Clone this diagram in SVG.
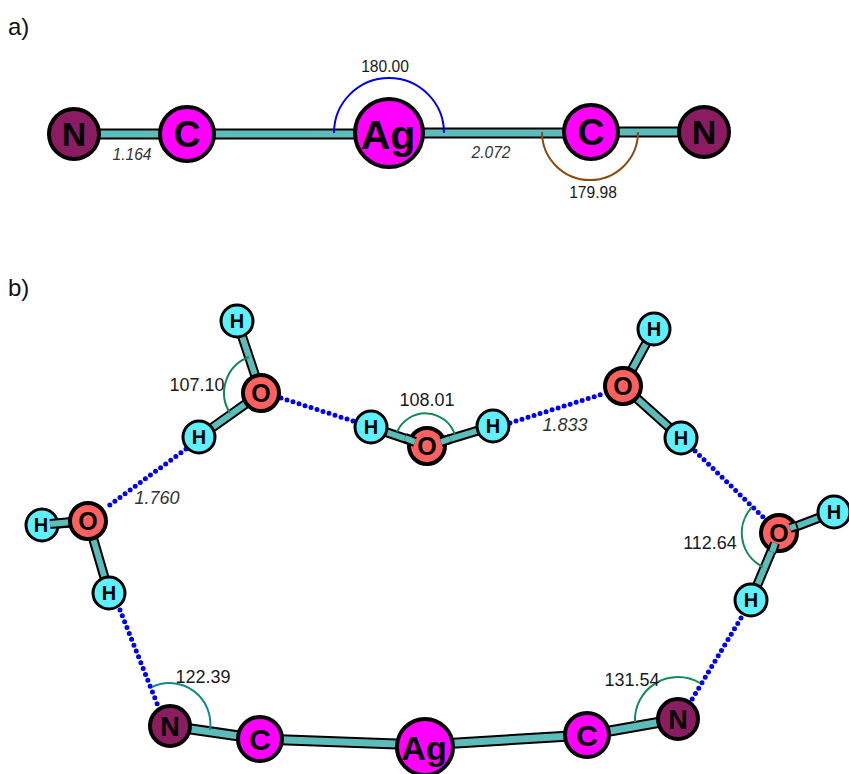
<svg xmlns="http://www.w3.org/2000/svg" width="849" height="774" viewBox="0 0 849 774">
<style>
text{font-family:"Liberation Sans",Arial,sans-serif;text-anchor:middle;fill:#1a1a1a}
.tag{font-size:24px;text-anchor:start;fill:#111}
.num{font-size:15.6px}
.len{font-size:15.6px;font-style:italic;fill:#333}
.numb{font-size:18px}
.lenb{font-size:18px;font-style:italic;fill:#333}
.bo{stroke:#000;fill:none;stroke-width:11}
.bi{stroke:#5cbcb9;fill:none;stroke-width:7}
.so{stroke:#000;fill:none;stroke-width:10}
.si{stroke:#5cbcb9;fill:none;stroke-width:6}
.hb{stroke:#0000ee;fill:none;stroke-width:5;stroke-linecap:round;stroke-dasharray:0 6.3}
.arc{fill:none;stroke-width:2}
circle{stroke:#000;stroke-width:4}
.h{stroke-width:3}
.n{fill:#8b1c62}.c,.ag{fill:#ff00ff}.o{fill:#ff6060}.h{fill:#5ff0ff}
.lb{font-weight:bold;fill:#000}
</style>
<text class="tag" x="8" y="35">a)</text>
<text class="tag" x="8" y="296">b)</text>
<g id="connectors">
<path class="bo" d="M74 134H187M187 134H387M387 133H591M591 132H704"/>
<path class="bi" d="M74 134H187M187 134H387M387 133H591M591 132H704"/>
<path class="so" d="M237 321L261 393M261 393L199 437M88 521L42 525M88 521L109 593M427 446L371 427M427 446L493 426M623 386L654 329M623 386L681 438M779 533L834 512M779 533L751 600"/>
<path class="si" d="M237 321L261 393M261 393L199 437M88 521L42 525M88 521L109 593M427 446L371 427M427 446L493 426M623 386L654 329M623 386L681 438M779 533L834 512M779 533L751 600"/>
<path class="bo" d="M170 726L260 739M260 739L424 745M424 745L587 735M587 735L678 719"/>
<path class="bi" d="M170 726L260 739M260 739L424 745M424 745L587 735M587 735L678 719"/>
<path class="hb" d="M186 449L107 507M281 398L356 422M510 423L606 393M695 451L765 519M741 618L691 701M120 610L158 706"/>
<path class="arc" stroke="#0000ee" d="M334 133A55 55 0 0 1 444 133"/>
<path class="arc" stroke="#8b4a10" d="M542 132A48 48 0 0 0 638 132"/>
<path class="arc" stroke="#118a55" d="M249 357A38 38 0 0 0 230 413"/>
<path class="arc" stroke="#118a55" d="M397 432A31 31 0 0 1 455 435"/>
<path class="arc" stroke="#118a55" d="M752 507A38 38 0 0 0 763 567"/>
<path class="arc" stroke="#118a55" d="M700 683A43 43 0 0 0 635 722"/>
<path class="arc" stroke="#118a8a" d="M152 687A41 41 0 0 1 210 730"/>
</g>
<g id="a-N1"><circle class="n" cx="74" cy="134" r="25"/><text class="lb" x="74" y="146" font-size="34">N</text></g>
<g id="a-C1"><circle class="c" cx="187" cy="134" r="27"/><text class="lb" x="187" y="147" font-size="37">C</text></g>
<g id="a-Ag"><circle class="ag" cx="389" cy="133" r="34"/><text class="lb" x="388" y="149" font-size="41">Ag</text></g>
<g id="a-C2"><circle class="c" cx="591" cy="132" r="27"/><text class="lb" x="591" y="145" font-size="37">C</text></g>
<g id="a-N2"><circle class="n" cx="704" cy="132" r="25"/><text class="lb" x="704" y="144" font-size="34">N</text></g>
<g id="b-H1"><circle class="h" cx="237" cy="321" r="16"/><text class="lb" x="237" y="328" font-size="20">H</text></g>
<g id="b-O1"><circle class="o" cx="261" cy="393" r="18"/><text class="lb" x="261" y="402" font-size="25">O</text></g>
<g id="b-H2"><circle class="h" cx="199" cy="437" r="16"/><text class="lb" x="199" y="444" font-size="20">H</text></g>
<g id="b-H3"><circle class="h" cx="42" cy="525" r="16"/><path class="so" d="M72 522L50 524"/><path class="si" d="M72 522L50 524"/><text class="lb" x="41" y="532" font-size="20">H</text></g>
<g id="b-O2"><circle class="o" cx="88" cy="521" r="18"/><text class="lb" x="88" y="530" font-size="25">O</text></g>
<g id="b-H4"><circle class="h" cx="109" cy="593" r="16"/><text class="lb" x="109" y="600" font-size="20">H</text></g>
<g id="b-N1"><circle class="n" cx="170" cy="726" r="20"/><text class="lb" x="170" y="736" font-size="27">N</text></g>
<g id="b-C1"><circle class="c" cx="260" cy="739" r="22"/><text class="lb" x="260" y="750" font-size="30">C</text></g>
<g id="b-Ag"><circle class="ag" cx="425" cy="747" r="28"/><text class="lb" x="424" y="760" font-size="34">Ag</text></g>
<g id="b-C2"><circle class="c" cx="587" cy="735" r="22"/><text class="lb" x="587" y="746" font-size="30">C</text></g>
<g id="b-N2"><circle class="n" cx="678" cy="719" r="20"/><text class="lb" x="678" y="729" font-size="27">N</text></g>
<g id="b-H5"><circle class="h" cx="751" cy="600" r="16"/><text class="lb" x="751" y="607" font-size="20">H</text></g>
<g id="b-O3"><circle class="o" cx="779" cy="533" r="18"/><path class="so" d="M796 526L790 528M775 543L772 552"/><path class="si" d="M796 526L790 528M775 543L772 552"/><text class="lb" x="779" y="542" font-size="25">O</text></g>
<g id="b-H6"><circle class="h" cx="834" cy="512" r="16"/><text class="lb" x="834" y="519" font-size="20">H</text></g>
<g id="b-H7"><circle class="h" cx="681" cy="438" r="16"/><text class="lb" x="681" y="445" font-size="20">H</text></g>
<g id="b-O4"><circle class="o" cx="623" cy="386" r="18"/><text class="lb" x="623" y="395" font-size="25">O</text></g>
<g id="b-H8"><circle class="h" cx="654" cy="329" r="16"/><text class="lb" x="654" y="336" font-size="20">H</text></g>
<g id="b-H9"><circle class="h" cx="371" cy="427" r="16"/><text class="lb" x="371" y="434" font-size="20">H</text></g>
<g id="b-O5"><circle class="o" cx="427" cy="446" r="18"/><path class="so" d="M405 438L415 442M450 439L441 442"/><path class="si" d="M405 438L415 442M450 439L441 442"/><text class="lb" x="427" y="455" font-size="25">O</text></g>
<g id="b-H10"><circle class="h" cx="493" cy="426" r="16"/><text class="lb" x="493" y="433" font-size="20">H</text></g>
<text class="num" x="385" y="72">180.00</text>
<text class="num" x="593" y="198">179.98</text>
<text class="len" x="132" y="160">1.164</text>
<text class="len" x="491" y="158">2.072</text>
<text class="numb" x="197" y="391">107.10</text>
<text class="numb" x="427" y="406">108.01</text>
<text class="lenb" x="565" y="431">1.833</text>
<text class="lenb" x="157" y="504">1.760</text>
<text class="numb" x="710" y="549">112.64</text>
<text class="numb" x="203" y="683">122.39</text>
<text class="numb" x="632" y="686">131.54</text>
</svg>
